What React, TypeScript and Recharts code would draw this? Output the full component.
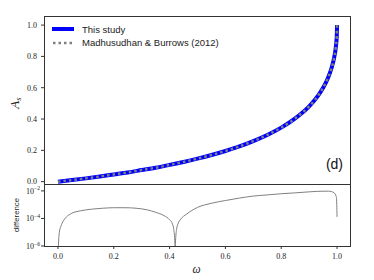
import React from 'react';
import { LineChart, Line, XAxis, YAxis, Legend } from 'recharts';

// Top panel: spherical albedo A_s vs single-scattering albedo omega
const omegaTop = [0, 0.05, 0.1, 0.15, 0.2, 0.25, 0.3, 0.35, 0.4, 0.45, 0.5, 0.55, 0.6, 0.65, 0.7, 0.75, 0.8, 0.85, 0.9, 0.92, 0.94, 0.96, 0.97, 0.98, 0.99, 0.995, 0.999, 1.0];
const asThisStudy = [0.0, 0.010, 0.021, 0.033, 0.046, 0.059, 0.074, 0.089, 0.107, 0.126, 0.147, 0.170, 0.196, 0.225, 0.259, 0.298, 0.345, 0.404, 0.481, 0.521, 0.570, 0.633, 0.673, 0.724, 0.795, 0.851, 0.930, 1.0];
const asMB2012 = [0.0, 0.010, 0.021, 0.033, 0.046, 0.059, 0.074, 0.089, 0.107, 0.126, 0.147, 0.170, 0.196, 0.225, 0.259, 0.298, 0.345, 0.404, 0.481, 0.521, 0.570, 0.633, 0.673, 0.724, 0.795, 0.851, 0.930, 1.0];

// Bottom panel: difference between the two
const omegaDiff = [0, 0.002, 0.005, 0.01, 0.02, 0.03, 0.05, 0.08, 0.12, 0.16, 0.2, 0.24, 0.28, 0.32, 0.35, 0.38, 0.4, 0.41, 0.415, 0.419, 0.42, 0.421, 0.425, 0.43, 0.44, 0.46, 0.5, 0.55, 0.6, 0.65, 0.7, 0.75, 0.8, 0.85, 0.9, 0.95, 0.97, 0.98, 0.99, 0.995, 0.998, 1.0];
const diffValues = [1e-7, 1.6e-6, 1e-5, 2.5e-5, 7e-5, 1.26e-4, 2.4e-4, 3.55e-4, 4.7e-4, 5.5e-4, 6.0e-4, 6.0e-4, 5.5e-4, 4.2e-4, 2.8e-4, 1.6e-4, 8e-5, 4e-5, 1.6e-5, 1.6e-6, 1e-7, 1.6e-6, 1.6e-5, 4e-5, 8.9e-5, 2e-4, 6.3e-4, 1.26e-3, 2.0e-3, 3.0e-3, 4.2e-3, 5.1e-3, 6.2e-3, 7.2e-3, 8.5e-3, 9.5e-3, 9.5e-3, 8.9e-3, 7.1e-3, 5.0e-3, 3.2e-3, 1.3e-4];

const topTicks = [0, 0.2, 0.4, 0.6, 0.8, 1.0];
const xTicks = [0, 0.2, 0.4, 0.6, 0.8, 1.0];
const logTicks = [1e-6, 1e-4, 1e-2];

const legendLabels = ['This study', 'Madhusudhan & Burrows (2012)'];

const topData = omegaTop.map((w, i) => ({ w, a: asThisStudy[i], b: asMB2012[i] }));
const diffData = omegaDiff.map((w, i) => ({ w, d: diffValues[i] }));

const SERIF = '"Liberation Serif", "DejaVu Serif", serif';
const SANS = '"Liberation Sans", Arial, sans-serif';
const AXIS = '#333';

const LinTick = (props: any) => {
  const { x, y, payload } = props;
  return (
    <text x={x} y={y + 2.8} textAnchor="end" fontFamily={SERIF} fontSize={8} fill="#222">
      {Number(payload.value).toFixed(1)}
    </text>
  );
};

const XTick = (props: any) => {
  const { x, y, payload } = props;
  return (
    <text x={x} y={y + 8} textAnchor="middle" fontFamily={SERIF} fontSize={8} fill="#222">
      {Number(payload.value).toFixed(1)}
    </text>
  );
};

const LogTick = (props: any) => {
  const { x, y, payload } = props;
  const exp = Math.round(Math.log10(payload.value));
  return (
    <text x={x} y={y + 3} textAnchor="end" fontFamily={SERIF} fontSize={8} fill="#222">
      <tspan>10</tspan>
      <tspan dy={-3.5} fontSize={5.6}>{'\u2212' + Math.abs(exp)}</tspan>
    </text>
  );
};

const LegendContent = () => (
  <div style={{ fontFamily: SANS, fontSize: 9.5, color: '#222' }}>
    <div style={{ display: 'flex', alignItems: 'center', height: 13.4 }}>
      <svg width={30} height={10} style={{ display: 'block' }}>
        <line x1={0} y1={5} x2={22} y2={5} stroke="#0000ff" strokeWidth={4} />
      </svg>
      <span>{legendLabels[0]}</span>
    </div>
    <div style={{ display: 'flex', alignItems: 'center', height: 13.4 }}>
      <svg width={30} height={10} style={{ display: 'block' }}>
        <line x1={1} y1={5} x2={22} y2={5} stroke="#808080" strokeWidth={2.5} strokeDasharray="2.5 3" />
      </svg>
      <span>{legendLabels[1]}</span>
    </div>
  </div>
);

export default function App() {
  return (
    <div style={{ position: 'absolute', left: 0, top: 0, width: 374, height: 280, background: '#fff' }}>
      <div style={{ position: 'absolute', left: 0, top: 0 }}>
        <LineChart width={374} height={196} data={topData} margin={{ top: 16, right: 23, bottom: 12, left: 4 }}>
          <XAxis dataKey="w" type="number" domain={[-0.05, 1.05]} allowDataOverflow hide height={0} />
          <YAxis
            type="number"
            domain={[-0.015, 1.058]}
            allowDataOverflow
            ticks={topTicks}
            interval={0}
            width={40}
            axisLine={false}
            tickLine={{ stroke: AXIS }}
            tickSize={3}
            tickMargin={4}
            tick={<LinTick />}
          />
          <Legend
            layout="horizontal"
            verticalAlign="middle"
            align="center"
            content={<LegendContent />}
            wrapperStyle={{ left: 52, top: 22.5, width: 220, height: 'auto' }}
          />
          <Line dataKey="a" type="monotone" stroke="#0000ff" strokeWidth={4} dot={false} isAnimationActive={false} />
          <Line dataKey="b" type="monotone" stroke="#808080" strokeWidth={2.5} strokeDasharray="2.5 3" dot={false} isAnimationActive={false} />
        </LineChart>
      </div>
      <div style={{ position: 'absolute', left: 0, top: 184 }}>
        <LineChart width={374} height={96} data={diffData} margin={{ top: 0, right: 23, bottom: 0, left: 4 }}>
          <XAxis
            dataKey="w"
            type="number"
            domain={[-0.05, 1.05]}
            allowDataOverflow
            ticks={xTicks}
            interval={0}
            height={34}
            axisLine={false}
            tickLine={{ stroke: AXIS }}
            tickSize={3}
            tickMargin={2}
            tick={<XTick />}
          />
          <YAxis
            type="number"
            scale="log"
            domain={[1e-6, 0.0316]}
            allowDataOverflow
            ticks={logTicks}
            interval={0}
            width={40}
            axisLine={false}
            tickLine={{ stroke: AXIS }}
            tickSize={3}
            tickMargin={1}
            tick={<LogTick />}
          />
          <Line dataKey="d" type="monotone" stroke="#808080" strokeWidth={1} dot={false} isAnimationActive={false} />
        </LineChart>
      </div>
      {/* panel frames */}
      <div style={{ position: 'absolute', left: 44, top: 16, width: 307, height: 169, border: `1px solid ${AXIS}`, boxSizing: 'border-box', pointerEvents: 'none' }} />
      <div style={{ position: 'absolute', left: 44, top: 184, width: 307, height: 63, border: `1px solid ${AXIS}`, boxSizing: 'border-box', pointerEvents: 'none' }} />
      {/* axis labels and panel tag */}
      <svg width={374} height={280} style={{ position: 'absolute', left: 0, top: 0, pointerEvents: 'none' }}>
        <text transform="translate(18.5,103) rotate(-90)" textAnchor="middle" fontFamily={SERIF} fontStyle="italic" fontSize={13} fill="#222">
          A<tspan dy={2.5} fontSize={8.5}>s</tspan>
        </text>
        <text transform="translate(18.5,215) rotate(-90)" textAnchor="middle" fontFamily={SANS} fontSize={7.8} fill="#222">
          difference
        </text>
        <text x={196.5} y={273} textAnchor="middle" fontFamily={SERIF} fontStyle="italic" fontSize={11.5} fill="#222">
          ω
        </text>
        <text x={343} y={169} textAnchor="end" fontFamily={SANS} fontSize={14} fill="#111">
          (d)
        </text>
      </svg>
    </div>
  );
}
